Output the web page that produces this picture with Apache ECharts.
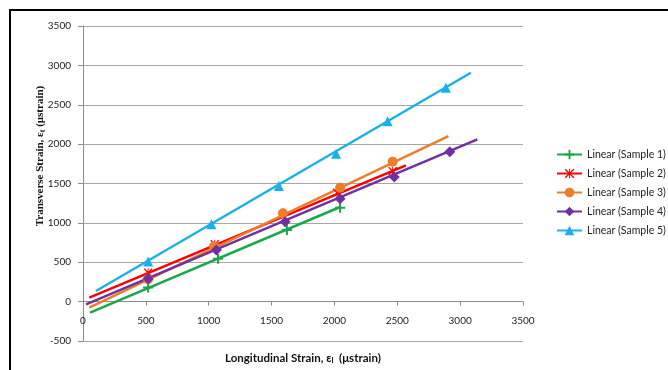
<!DOCTYPE html>
<html>
<head>
<meta charset="utf-8">
<script src="https://cdn.jsdelivr.net/npm/echarts@6/dist/echarts.min.js"></script>
<style>
html,body{margin:0;padding:0;background:#fff;}
#chart{width:668px;height:370px;}
</style>
</head>
<body>
<div id="chart"></div>
<script>
// ---- Data ----
const xTicks = [0, 500, 1000, 1500, 2000, 2500, 3000, 3500];
const yTicks = [-500, 0, 500, 1000, 1500, 2000, 2500, 3000, 3500];

const seriesNames = ['Linear (Sample 1)', 'Linear (Sample 2)', 'Linear (Sample 3)', 'Linear (Sample 4)', 'Linear (Sample 5)'];

// measured points
const sample1X = [518, 1074, 1622, 2045];
const sample1Y = [178, 546, 909, 1193];
const sample2X = [518, 1048, 2021, 2463];
const sample2Y = [368, 727, 1383, 1657];
const sample3X = [518, 1042, 1590, 2045, 2463];
const sample3Y = [283, 698, 1121, 1446, 1777];
const sample4X = [518, 1061, 1608, 2045, 2476, 2918];
const sample4Y = [292, 655, 1015, 1307, 1582, 1904];
const sample5X = [518, 1021, 1558, 2013, 2423, 2886];
const sample5Y = [508, 981, 1467, 1878, 2292, 2716];

// linear trendline end points (start, end)
const trend1X = [56, 2050];   const trend1Y = [-140, 1205];
const trend2X = [50, 2569];   const trend2Y = [51, 1730];
const trend3X = [50, 2907];   const trend3Y = [-76, 2102];
const trend4X = [24, 3137];   const trend4Y = [-34, 2060];
const trend5X = [103, 3085];  const trend5Y = [135, 2906];

// ---- Styles ----
const colors = ['#1aa64a', '#ff0000', '#ee7d2a', '#7030a0', '#1ab0ec'];
const plusPath = 'path://M4,0h2v4h4v2h-4v4h-2v-4h-4v-2h4z';
const starPath = 'path://M0,1L1,0L5,4L9,0L10,1L6,5L10,9L9,10L5,6L1,10L0,9L4,5Z M4.5,0h1v10h-1z';
const symbols = [plusPath, starPath, 'circle', 'diamond', 'triangle'];
const symbolSizes = [10, 9, 10, 11, 10];

const pts = [[sample1X, sample1Y], [sample2X, sample2Y], [sample3X, sample3Y], [sample4X, sample4Y], [sample5X, sample5Y]];
const trends = [[trend1X, trend1Y], [trend2X, trend2Y], [trend3X, trend3Y], [trend4X, trend4Y], [trend5X, trend5Y]];

const zip = (a, b) => a.map((v, i) => [v, b[i]]);

const series = [];
seriesNames.forEach((name, i) => {
  series.push({
    name: name,
    type: 'line',
    symbol: symbols[i],
    symbolSize: symbolSizes[i],
    data: zip(trends[i][0], trends[i][1]).map(p => ({ value: p, symbol: 'none' })),
    lineStyle: { color: colors[i], width: 2.5 },
    itemStyle: { color: colors[i] },
    silent: true,
    z: 2
  });
});
seriesNames.forEach((name, i) => {
  series.push({
    name: name,
    type: 'scatter',
    symbol: symbols[i],
    symbolSize: symbolSizes[i],
    data: zip(pts[i][0], pts[i][1]),
    itemStyle: { color: colors[i], opacity: 1 },
    z: 3
  });
});

const chart = echarts.init(document.getElementById('chart'));
const labelFont = 'Lato, "Open Sans", sans-serif';
const plain = v => String(v);

// grid geometry
const gridTop = 26, gridBottom = 29;
const plotH = 370 - gridTop - gridBottom;
const yMin = yTicks[0], yMax = yTicks[yTicks.length - 1];
// place the x axis line at y = 0 (as in the reference)
const zeroOffset = -plotH * (0 - yMin) / (yMax - yMin);

chart.setOption({
  animation: false,
  backgroundColor: '#fff',
  grid: { left: 83, right: 145, top: gridTop, bottom: gridBottom, containLabel: false, outerBoundsMode: 'none' },
  xAxis: {
    type: 'value',
    position: 'bottom',
    offset: zeroOffset,
    min: xTicks[0],
    max: xTicks[xTicks.length - 1],
    interval: xTicks[1] - xTicks[0],
    axisLine: { show: true, onZero: false, lineStyle: { color: '#8c8c8c', width: 1 } },
    axisTick: { show: true, length: 4, lineStyle: { color: '#8c8c8c' } },
    splitLine: { show: false },
    axisLabel: { color: '#222', fontFamily: labelFont, fontSize: 10, margin: 14, formatter: plain },
    name: '{a|Longitudinal Strain, ε}{s|l}{a|  (μstrain)}',
    nameLocation: 'middle',
    nameGap: 50,
    nameTextStyle: {
      rich: {
        a: { fontFamily: labelFont, fontWeight: 'bold', fontSize: 11.5, color: '#111' },
        s: { fontFamily: labelFont, fontWeight: 'bold', fontSize: 8, color: '#111', padding: [5, 0, 0, 0] }
      }
    }
  },
  yAxis: {
    type: 'value',
    min: yMin,
    max: yMax,
    interval: yTicks[1] - yTicks[0],
    axisLine: { show: true, onZero: false, lineStyle: { color: '#8c8c8c', width: 1 } },
    axisTick: { show: true, length: 5, lineStyle: { color: '#8c8c8c' } },
    splitLine: { show: true, lineStyle: { color: '#a6a6a6', width: 1 } },
    axisLabel: { color: '#222', fontFamily: labelFont, fontSize: 10, margin: 12, formatter: plain }
  },
  legend: {
    orient: 'vertical',
    left: 551,
    top: 144,
    itemWidth: 25,
    itemHeight: 12,
    itemGap: 8,
    data: seriesNames,
    textStyle: { fontFamily: labelFont, fontSize: 10.5, color: '#222' }
  },
  graphic: [
    {
      type: 'rect',
      shape: { x: 10, y: 10, width: 720, height: 420 },
      style: { fill: 'none', stroke: '#000', lineWidth: 2 },
      silent: true
    },
    {
      type: 'text',
      x: 40,
      y: 156,
      rotation: Math.PI / 2,
      style: {
        text: '{a|Transverse Strain, ε}{s|t}{a| (μstrain)}',
        align: 'center',
        verticalAlign: 'middle',
        rich: {
          a: { fontFamily: '"Liberation Serif", "Times New Roman", serif', fontWeight: 'bold', fontSize: 11, fill: '#111' },
          s: { fontFamily: '"Liberation Serif", "Times New Roman", serif', fontWeight: 'bold', fontSize: 8, fill: '#111', padding: [5, 0, 0, 0] }
        }
      }
    }
  ],
  series: series
});
</script>
</body>
</html>
